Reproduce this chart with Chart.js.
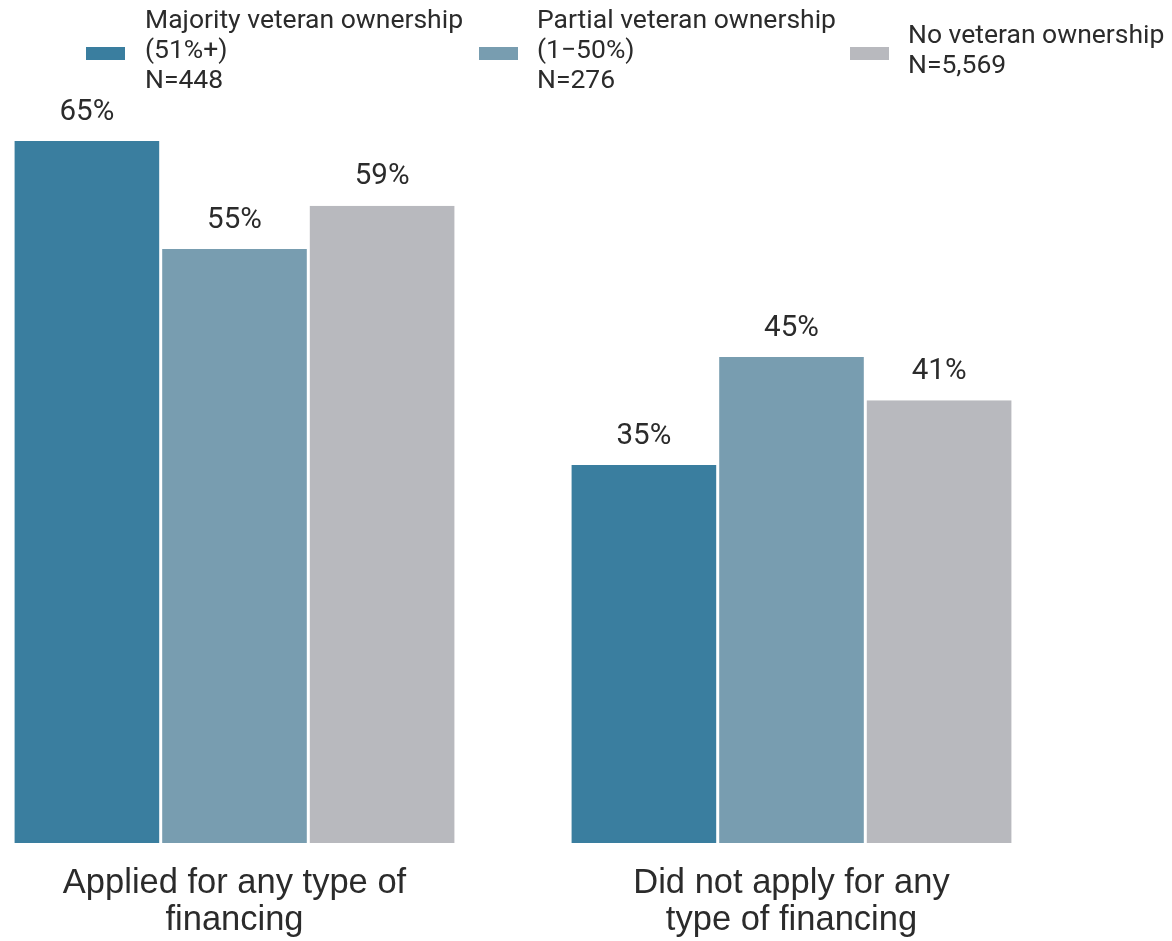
<!DOCTYPE html>
<html>
<head>
<meta charset="utf-8">
<style>
  html, body { margin: 0; padding: 0; background: #ffffff; overflow: hidden; }
  #wrap { position: relative; width: 1172px; height: 941px; overflow: hidden; }
  #c { position: absolute; left: -44px; top: 0; }
</style>
<script src="https://cdn.jsdelivr.net/npm/chart.js@4.4.1/dist/chart.umd.min.js"></script>
</head>
<body>
<div id="wrap"><canvas id="c" width="1216" height="941"></canvas></div>
<script>
// ---- Data ----
const categories = [
  ['Applied for any type of', 'financing'],
  ['Did not apply for any', 'type of financing']
];
const seriesNames = [
  ['Majority veteran ownership', '(51%+)', 'N=448'],
  ['Partial veteran ownership', '(1\u221250%)', 'N=276'],
  ['No veteran ownership', 'N=5,569']
];
const majorityValues = [65, 35];
const partialValues = [55, 45];
const noneValues = [59, 41];
const seriesColors = ['#3a7e9f', '#789db0', '#b8b9be'];

const TEXT_COLOR = '#2b2b2b';
const SHIFT = 44; // canvas is shifted left by this many px on the page

// ---- Custom legend (multi-line, box vertically centred) ----
const legendPlugin = {
  id: 'customLegend',
  afterDraw(chart) {
    const ctx = chart.ctx;
    const boxX = [86, 479, 850];
    const textX = [145, 537, 908];
    const midBaseline = 57.5;
    const lineH = 30;
    ctx.save();
    ctx.font = '26.5px Roboto';
    ctx.textAlign = 'left';
    ctx.textBaseline = 'alphabetic';
    chart.data.datasets.forEach((ds, i) => {
      ctx.fillStyle = ds.backgroundColor;
      ctx.fillRect(boxX[i] + SHIFT, 47, 39, 13);
      const lines = ds.legendLines;
      ctx.fillStyle = TEXT_COLOR;
      lines.forEach((ln, j) => {
        const y = midBaseline + (j - (lines.length - 1) / 2) * lineH;
        ctx.fillText(ln, textX[i] + SHIFT, y);
      });
    });
    ctx.restore();
  }
};

// ---- Value labels above bars ----
const valueLabelPlugin = {
  id: 'valueLabels',
  afterDatasetsDraw(chart) {
    const ctx = chart.ctx;
    ctx.save();
    ctx.font = '29.5px Roboto';
    ctx.fillStyle = TEXT_COLOR;
    ctx.textAlign = 'center';
    ctx.textBaseline = 'alphabetic';
    chart.data.datasets.forEach((ds, di) => {
      const meta = chart.getDatasetMeta(di);
      meta.data.forEach((el, idx) => {
        ctx.fillText(ds.data[idx] + '%', el.x, el.y - 21.5);
      });
    });
    ctx.restore();
  }
};

const allSeries = [majorityValues, partialValues, noneValues];

new Chart(document.getElementById('c'), {
  type: 'bar',
  data: {
    labels: categories,
    datasets: allSeries.map((vals, i) => ({
      label: seriesNames[i].join(' '),
      legendLines: seriesNames[i],
      data: vals,
      backgroundColor: seriesColors[i],
      borderColor: '#ffffff',
      borderWidth: { left: 1.5, right: 1.5, top: 0, bottom: 0 },
      borderSkipped: false,
      inflateAmount: 0,
      categoryPercentage: 0.795,
      barPercentage: 1.0
    }))
  },
  options: {
    responsive: false,
    animation: false,
    devicePixelRatio: 1,
    layout: {
      padding: { left: 0, right: 102, top: 87, bottom: 2 }
    },
    plugins: {
      legend: { display: false },
      tooltip: { enabled: false }
    },
    scales: {
      y: {
        display: false,
        min: 0,
        max: 70
      },
      x: {
        grid: { display: false, drawTicks: false },
        border: { display: false },
        afterFit(scale) { scale.height = 96; scale.paddingLeft = 0; scale.paddingRight = 0; },
        ticks: {
          color: TEXT_COLOR,
          font: { family: '"Liberation Sans", Arial, sans-serif', size: 34.5, lineHeight: 1.07 },
          padding: 22,
          maxRotation: 0,
          autoSkip: false
        }
      }
    }
  },
  plugins: [legendPlugin, valueLabelPlugin]
});
</script>
</body>
</html>
